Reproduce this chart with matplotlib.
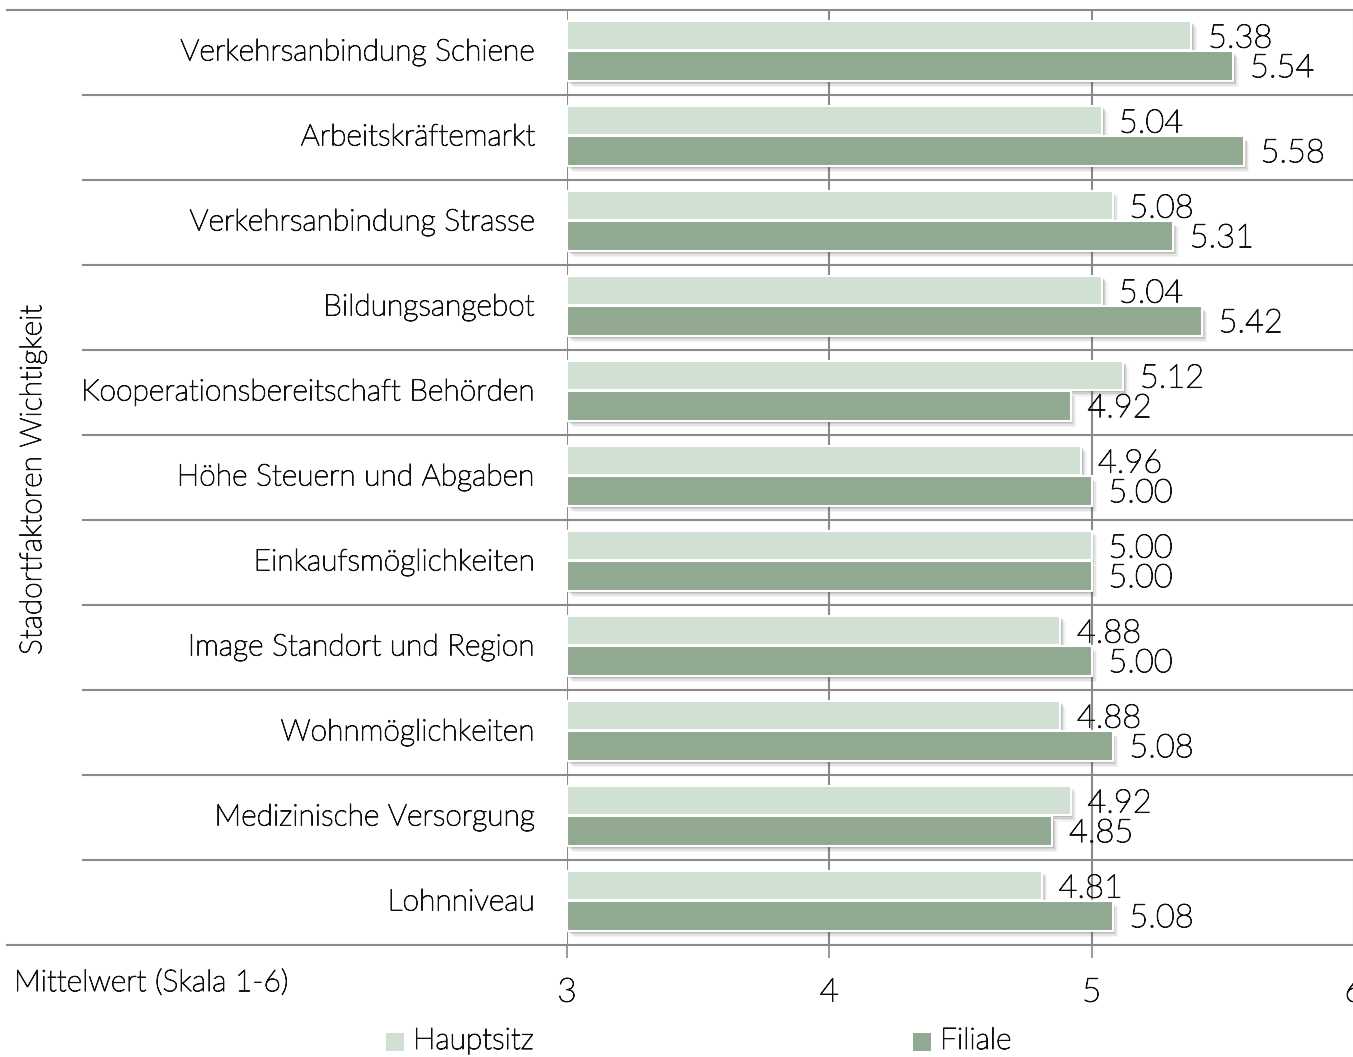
import matplotlib
matplotlib.use("Agg")
import matplotlib.pyplot as plt
import matplotlib.patheffects as pe
from matplotlib.patches import Rectangle
import numpy as np

categories = ["Verkehrsanbindung Schiene", "Arbeitskräftemarkt", "Verkehrsanbindung Strasse",
              "Bildungsangebot", "Kooperationsbereitschaft Behörden", "Höhe Steuern und Abgaben",
              "Einkaufsmöglichkeiten", "Image Standort und Region", "Wohnmöglichkeiten",
              "Medizinische Versorgung", "Lohnniveau"]
hauptsitz = [5.38, 5.04, 5.08, 5.04, 5.12, 4.96, 5.00, 4.88, 4.88, 4.92, 4.81]
filiale = [5.54, 5.58, 5.31, 5.42, 4.92, 5.00, 5.00, 5.00, 5.08, 4.85, 5.08]
series_names = ["Hauptsitz", "Filiale"]
xticks = [3, 4, 5, 6]

c_h = "#D0E0D2"
c_f = "#91A990"
txt = "#111111"
grid_c = "#8a8a8a"
FONT = "Lato"
plt.rcParams['font.family'] = [FONT, 'DejaVu Sans']
plt.rcParams['font.weight'] = 'light'
FS = 21.6
FSV = 23.5
FST = 24
tpe = [pe.withStroke(linewidth=0.7, foreground=txt)]

W, H = 1353, 1057
fig = plt.figure(figsize=(W/100, H/100), dpi=100)
ax_left = 567 / W
ax_right = 1354 / W
ax_top = 1 - 10 / H
ax_bot = 1 - 945 / H
ax = fig.add_axes([ax_left, ax_bot, ax_right - ax_left, ax_top - ax_bot])

n = len(categories)
y = np.arange(n)
bh = 0.35
shadow = [pe.SimplePatchShadow(offset=(1, -1.5), shadow_rgbFace="#444444", alpha=0.15),
          pe.SimplePatchShadow(offset=(2, -2.5), shadow_rgbFace="#444444", alpha=0.13),
          pe.SimplePatchShadow(offset=(3, -3.5), shadow_rgbFace="#444444", alpha=0.09),
          pe.SimplePatchShadow(offset=(4, -4.5), shadow_rgbFace="#444444", alpha=0.06),
          pe.Normal()]

bars_h = ax.barh(y + 0.30, np.array(hauptsitz) - 3, left=3, height=bh, color=c_h,
                 edgecolor="white", linewidth=1.5, zorder=3)
bars_f = ax.barh(y + 0.66, np.array(filiale) - 3, left=3, height=bh, color=c_f,
                 edgecolor="white", linewidth=1.5, zorder=3)
for b in list(bars_h) + list(bars_f):
    b.set_path_effects(shadow)

for i in range(n):
    ax.annotate(f"{hauptsitz[i]:.2f}", (hauptsitz[i], y[i] + 0.30), xytext=(12, -2.2),
                textcoords="offset points", va="center", ha="left", fontsize=FSV,
                color=txt, zorder=5, path_effects=tpe)
    ax.annotate(f"{filiale[i]:.2f}", (filiale[i], y[i] + 0.66), xytext=(12, -1.5),
                textcoords="offset points", va="center", ha="left", fontsize=FSV,
                color=txt, zorder=5, path_effects=tpe)

ax.set_xlim(3, 6)
ax.set_ylim(n, 0)
for s in ax.spines.values():
    s.set_visible(False)

for xv in xticks:
    ax.axvline(xv, color=grid_c, lw=1.5, zorder=1)

tr = ax.get_yaxis_transform()
x_in = (83 - 567) / (1354 - 567)
x_out = (7 - 567) / (1354 - 567)
for i in range(1, n):
    ax.plot([x_in, 1], [i, i], transform=tr, color=grid_c, lw=1.5, clip_on=False, zorder=2)
for yy in [0, n]:
    ax.plot([x_out, 1], [yy, yy], transform=tr, color=grid_c, lw=1.5, clip_on=False, zorder=2)

ax.set_xticks(xticks)
ax.set_xticklabels([str(t) for t in xticks])
ax.tick_params(axis="x", length=9.5, width=1.2, color=grid_c, pad=14, labelsize=FST, labelcolor=txt)
ax.set_yticks(y + 0.47)
ax.set_yticklabels(categories)
ax.tick_params(axis="y", length=0, pad=23, labelsize=FS, labelcolor=txt)
for lab in ax.get_xticklabels() + ax.get_yticklabels():
    lab.set_path_effects(tpe)

fig.text(33 / W, 1 - 480 / H, "Stadortfaktoren Wichtigkeit", rotation=90, ha="center",
         va="center", fontsize=FS, color=txt, path_effects=tpe)
fig.text(14 / W, 1 - 983 / H, "Mittelwert (Skala 1-6)", ha="left", va="center",
         fontsize=FS, color=txt, path_effects=tpe)

for name, col, xm in [(series_names[0], c_h, 386), (series_names[1], c_f, 913)]:
    fig.add_artist(Rectangle((xm / W, 1 - 1051 / H), 18 / W, 18 / H, transform=fig.transFigure,
                             facecolor=col, edgecolor="none"))
    fig.text((xm + 27) / W, 1 - 1041 / H, name, ha="left", va="center", fontsize=FS,
             color=txt, path_effects=tpe)

fig.savefig("out.png", dpi=100)
